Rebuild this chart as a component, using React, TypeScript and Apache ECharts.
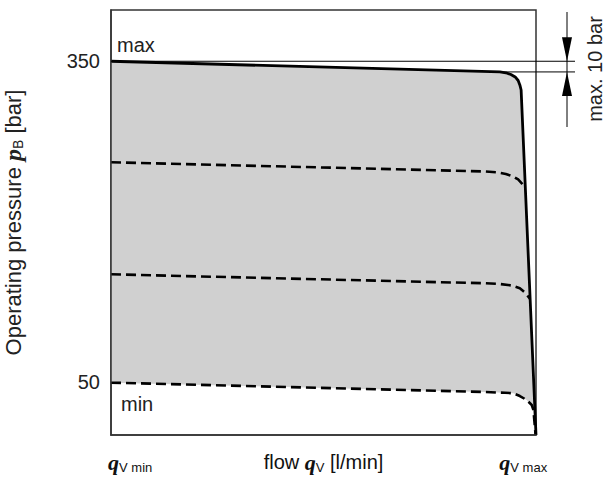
import React, { useEffect, useRef } from "react";
import * as echarts from "echarts";

// Tick labels (x positions in % of the flow range)
const yTickValues = [50, 350];
const xTickValues = [4.5, 50, 97];
const xTickLabels = ["{q|q}{sub|V min}", "flow {q|q}{sub|V} [l/min]", "{q|q}{sub|V max}"];

// Curves: [flow (% of range), pressure bar]
const maxCurve = [
  [0, 350], [91.5, 340], [92.9, 339.2], [94.1, 337.6], [95.1, 335.3],
  [95.8, 332], [96.2, 327.8], [96.5, 323.1], [100, 0],
];
const dashedUpper = [
  [0, 255.4], [88, 246.8], [90.8, 246.0], [92.9, 244.4], [94.6, 242.1],
  [95.8, 239.3], [96.7, 235.5], [97.5, 231.3],
];
const dashedMiddle = [
  [0, 150.5], [88, 142.1], [91.5, 141.4], [94.3, 140.0], [96.2, 137.4],
  [97.6, 132.7], [98.6, 127.4],
];
const minCurve = [
  [0, 49], [88, 40.3], [92.7, 39.5], [94.7, 39.1], [96.2, 36.5],
  [97.8, 32.8], [99.0, 28.1], [99.4, 23.4], [99.6, 14.0], [99.9, 0],
];
// Tolerance band at max: 350 -> 340 bar (max. 10 bar)
const toleranceLevels = [350, 340];

const SANS = "Liberation Sans";

export default function App() {
  const ref = useRef<HTMLDivElement>(null);
  useEffect(() => {
    document.body.style.margin = "0";
    const chart = echarts.init(ref.current!, null, { renderer: "svg" });
    const fillPoly = [...maxCurve, ...[...minCurve].reverse()];
    const qRich = {
      q: {
        fontFamily: "Liberation Serif",
        fontStyle: "italic",
        fontWeight: "bold",
        fontSize: 22,
        lineHeight: 24,
        color: "#111",
      },
      sub: {
        fontFamily: SANS,
        fontSize: 13,
        lineHeight: 16,
        verticalAlign: "bottom",
        color: "#111",
      },
    };
    chart.setOption({
      animation: false,
      grid: {
        left: 111, right: 70, top: 10, bottom: 49,
        outerBoundsMode: "none", containLabel: false,
        show: true, borderColor: "#333", borderWidth: 1.5,
      },
      xAxis: {
        type: "value",
        min: 0,
        max: 100,
        z: 5,
        axisLine: { show: true, lineStyle: { color: "#333", width: 1.5 } },
        axisTick: { show: false },
        splitLine: { show: false },
        axisLabel: {
          customValues: xTickValues,
          formatter: (v: number) => xTickLabels[xTickValues.indexOf(v)] ?? "",
          margin: 15,
          fontFamily: SANS,
          fontSize: 20,
          lineHeight: 24,
          color: "#111",
          rich: qRich,
        },
      },
      yAxis: {
        type: "value",
        min: 0,
        max: 398,
        z: 5,
        axisLine: { show: true, lineStyle: { color: "#333", width: 1.5 } },
        axisTick: { show: false },
        splitLine: { show: false },
        axisLabel: {
          customValues: yTickValues,
          margin: 11,
          fontFamily: SANS,
          fontSize: 20,
          color: "#222",
        },
        name: "Operating pressure {p|p}{sub|B} [bar]",
        nameLocation: "middle",
        nameRotate: 90,
        nameGap: 86,
        nameTextStyle: {
          fontFamily: SANS,
          fontSize: 22,
          lineHeight: 24,
          color: "#222",
          rich: {
            p: { fontFamily: "Liberation Serif", fontStyle: "italic", fontWeight: "bold", fontSize: 24, lineHeight: 24, color: "#222" },
            sub: { fontFamily: SANS, fontSize: 14, lineHeight: 16, verticalAlign: "bottom", color: "#222" },
          },
        },
      },
      series: [
        {
          type: "custom",
          silent: true,
          z: 1,
          data: [[0, 0]],
          renderItem: (_p: any, api: any) => ({
            type: "polygon",
            shape: { points: fillPoly.map((d) => api.coord(d)) },
            style: { fill: "#d0d0d0" },
          }),
        },
        {
          type: "line", data: dashedUpper, symbol: "none", z: 3,
          lineStyle: { color: "#000", width: 2.6, type: [10, 5] },
        },
        {
          type: "line", data: dashedMiddle, symbol: "none", z: 3,
          lineStyle: { color: "#000", width: 2.6, type: [10, 5] },
        },
        {
          type: "line", data: minCurve, symbol: "none", z: 3,
          lineStyle: { color: "#000", width: 2.6, type: [10, 5] },
        },
        {
          type: "line", data: maxCurve, symbol: "none", z: 4,
          lineStyle: { color: "#000", width: 2.8 },
        },
      ],
    });

    const px = (v: number[]) => chart.convertToPixel({ gridIndex: 0 }, v) as number[];
    const [x0, yTop] = px([0, toleranceLevels[0]]);
    const [xb, yBot] = px([maxCurve[1][0], toleranceLevels[1]]);
    const dimX = 567;
    const lineEnd = 575;
    chart.setOption({
      graphic: [
        { type: "line", shape: { x1: x0, y1: yTop, x2: lineEnd, y2: yTop }, style: { stroke: "#000", lineWidth: 1 }, z: 10 },
        { type: "line", shape: { x1: xb, y1: yBot, x2: lineEnd, y2: yBot }, style: { stroke: "#000", lineWidth: 1 }, z: 10 },
        { type: "line", shape: { x1: dimX, y1: 12, x2: dimX, y2: 127 }, style: { stroke: "#000", lineWidth: 1 }, z: 10 },
        { type: "polygon", shape: { points: [[dimX - 5, yTop - 24], [dimX + 5, yTop - 24], [dimX, yTop]] }, style: { fill: "#000" }, z: 10 },
        { type: "polygon", shape: { points: [[dimX - 5, yBot + 24], [dimX + 5, yBot + 24], [dimX, yBot]] }, style: { fill: "#000" }, z: 10 },
        {
          type: "text", x: 595, y: 69, rotation: Math.PI / 2, z: 10,
          style: { text: "max. 10 bar", fontFamily: SANS, fontSize: 20, fill: "#222", align: "center", verticalAlign: "middle" },
        },
        {
          type: "text", x: 117, y: 45, z: 10,
          style: { text: "max", fontFamily: SANS, fontSize: 20, fill: "#222", align: "left", verticalAlign: "middle" },
        },
        {
          type: "text", x: 121, y: 404, z: 10,
          style: { text: "min", fontFamily: SANS, fontSize: 20, fill: "#222", align: "left", verticalAlign: "middle" },
        },
      ],
    });
    return () => chart.dispose();
  }, []);
  return <div ref={ref} style={{ width: 606, height: 484 }} />;
}
